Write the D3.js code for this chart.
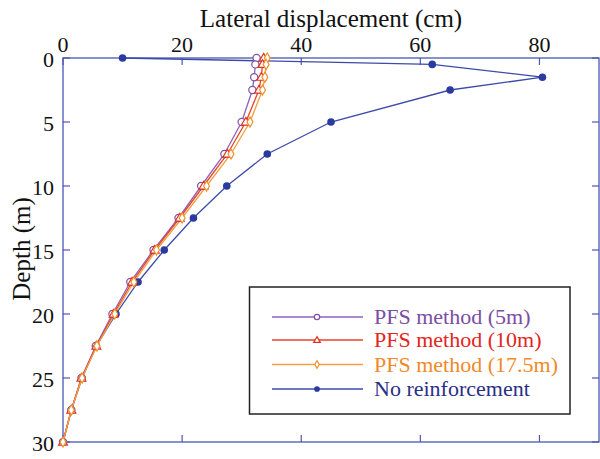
<!DOCTYPE html>
<html><head><meta charset="utf-8">
<script src="https://cdn.jsdelivr.net/npm/d3@7"></script>
<style>body{margin:0;background:#fff}svg{display:block}text{font-family:"Liberation Serif","Times New Roman","DejaVu Serif",serif}</style>
</head><body>
<svg id="c" width="600" height="459"></svg>
<script>
const depths = [0,0.5,1.5,2.5,5,7.5,10,12.5,15,17.5,20,22.5,25,27.5,30];
const pfs5   = [32.5,32.3,32.1,31.8,30.0,27.1,23.2,19.4,15.2,11.3,8.3,5.5,3.1,1.4,0];
const pfs10  = [33.7,33.5,33.3,32.9,30.7,27.6,23.6,19.6,15.4,11.6,8.5,5.6,3.1,1.4,0];
const pfs175 = [34.3,34.1,33.9,33.5,31.4,28.2,24.1,20.0,15.7,11.9,8.7,5.7,3.2,1.4,0];
const noReinf= [10,62,80.5,65,45,34.3,27.5,21.9,17,12.6,8.9,5.6,3.2,1.4,0];
const xTicks = [0,20,40,60,80];
const yTicks = [0,5,10,15,20,25,30];
const seriesNames = ["PFS method (5m)","PFS method (10m)","PFS method (17.5m)","No reinforcement"];

const svg = d3.select("#c");
const L=63, R=599, T=58, B=442;
const x = d3.scaleLinear().domain([0,90]).range([L,R]);
const y = d3.scaleLinear().domain([0,30]).range([T,B]);
const axisCol = "#4a58b2";

svg.append("rect").attr("x",L).attr("y",T).attr("width",R-L).attr("height",B-T)
  .attr("fill","none").attr("stroke",axisCol).attr("stroke-width",1.3);

const tl = 7;
xTicks.forEach(t=>{
  svg.append("line").attr("x1",x(t)).attr("x2",x(t)).attr("y1",T).attr("y2",T+tl).attr("stroke",axisCol).attr("stroke-width",1.2);
  svg.append("line").attr("x1",x(t)).attr("x2",x(t)).attr("y1",B).attr("y2",B-tl).attr("stroke",axisCol).attr("stroke-width",1.2);
  svg.append("text").attr("x",x(t)).attr("y",T-6).attr("text-anchor","middle")
    .attr("font-size",22).attr("fill","#111").text(t);
});
yTicks.forEach(t=>{
  svg.append("line").attr("x1",L).attr("x2",L+tl).attr("y1",y(t)).attr("y2",y(t)).attr("stroke",axisCol).attr("stroke-width",1.2);
  svg.append("line").attr("x1",R).attr("x2",R-tl).attr("y1",y(t)).attr("y2",y(t)).attr("stroke",axisCol).attr("stroke-width",1.2);
  svg.append("text").attr("x",L-9).attr("y",y(t)+9).attr("text-anchor","end")
    .attr("font-size",22).attr("fill","#111").text(t);
});

svg.append("text").attr("x",331).attr("y",27).attr("text-anchor","middle")
  .attr("font-size",25).attr("fill","#111").text("Lateral displacement (cm)");
svg.append("text").attr("transform","translate(30,249) rotate(-90)").attr("text-anchor","middle")
  .attr("font-size",25).attr("fill","#111").text("Depth (m)");

const series = [
  {name:seriesNames[3], vals:noReinf, line:"#3d4ba8", mk:"dot", mc:"#2a3a9e", tc:"#2a2f85"},
  {name:seriesNames[0], vals:pfs5, line:"#8f62b8", mk:"circle", mc:"#7d52a8", tc:"#7a4ea3"},
  {name:seriesNames[1], vals:pfs10, line:"#e8452a", mk:"tri", mc:"#e0301e", tc:"#e3261c"},
  {name:seriesNames[2], vals:pfs175, line:"#f3a040", mk:"dia", mc:"#f0902a", tc:"#f08a28"},
];

function marker(g, type, cx, cy, col, s){
  s = s || 1;
  if(type==="dot") g.append("circle").attr("cx",cx).attr("cy",cy).attr("r",3.8*s).attr("fill",col);
  else if(type==="circle") g.append("circle").attr("cx",cx).attr("cy",cy).attr("r",3.6*s).attr("fill","#fff").attr("stroke",col).attr("stroke-width",1.2);
  else if(type==="tri") g.append("path").attr("d",d3.symbol(d3.symbolTriangle,34*s*s)()).attr("transform",`translate(${cx},${cy+0.5})`).attr("fill","#fff").attr("stroke",col).attr("stroke-width",1.2);
  else if(type==="dia") g.append("path").attr("d",d3.symbol(d3.symbolDiamond,30*s*s)()).attr("transform",`translate(${cx},${cy})`).attr("fill","#fff").attr("stroke",col).attr("stroke-width",1.2);
}

const line = d3.line().x(d=>x(d[0])).y(d=>y(d[1]));
series.forEach(s=>{
  const pts = s.vals.map((v,i)=>[v,depths[i]]);
  svg.append("path").attr("d",line(pts)).attr("fill","none").attr("stroke",s.line).attr("stroke-width",1.3);
});
series.forEach(s=>{
  const g = svg.append("g");
  s.vals.forEach((v,i)=>marker(g,s.mk,x(v),y(depths[i]),s.mc));
});

const lg = svg.append("g");
lg.append("rect").attr("x",249.5).attr("y",287).attr("width",320.5).attr("height",127)
  .attr("fill","#fff").attr("stroke","#222").attr("stroke-width",1.5);
const order = [series[1],series[2],series[3],series[0]];
const ly = [317,340,364.5,389];
order.forEach((s,i)=>{
  lg.append("line").attr("x1",272).attr("x2",363).attr("y1",ly[i]).attr("y2",ly[i]).attr("stroke",s.line).attr("stroke-width",1.3);
  marker(lg,s.mk,317,ly[i],s.mc,0.75);
  lg.append("text").attr("x",374).attr("y",ly[i]+7).attr("font-size",22)
    .attr("fill",s.tc).text(s.name);
});
</script>
</body></html>
